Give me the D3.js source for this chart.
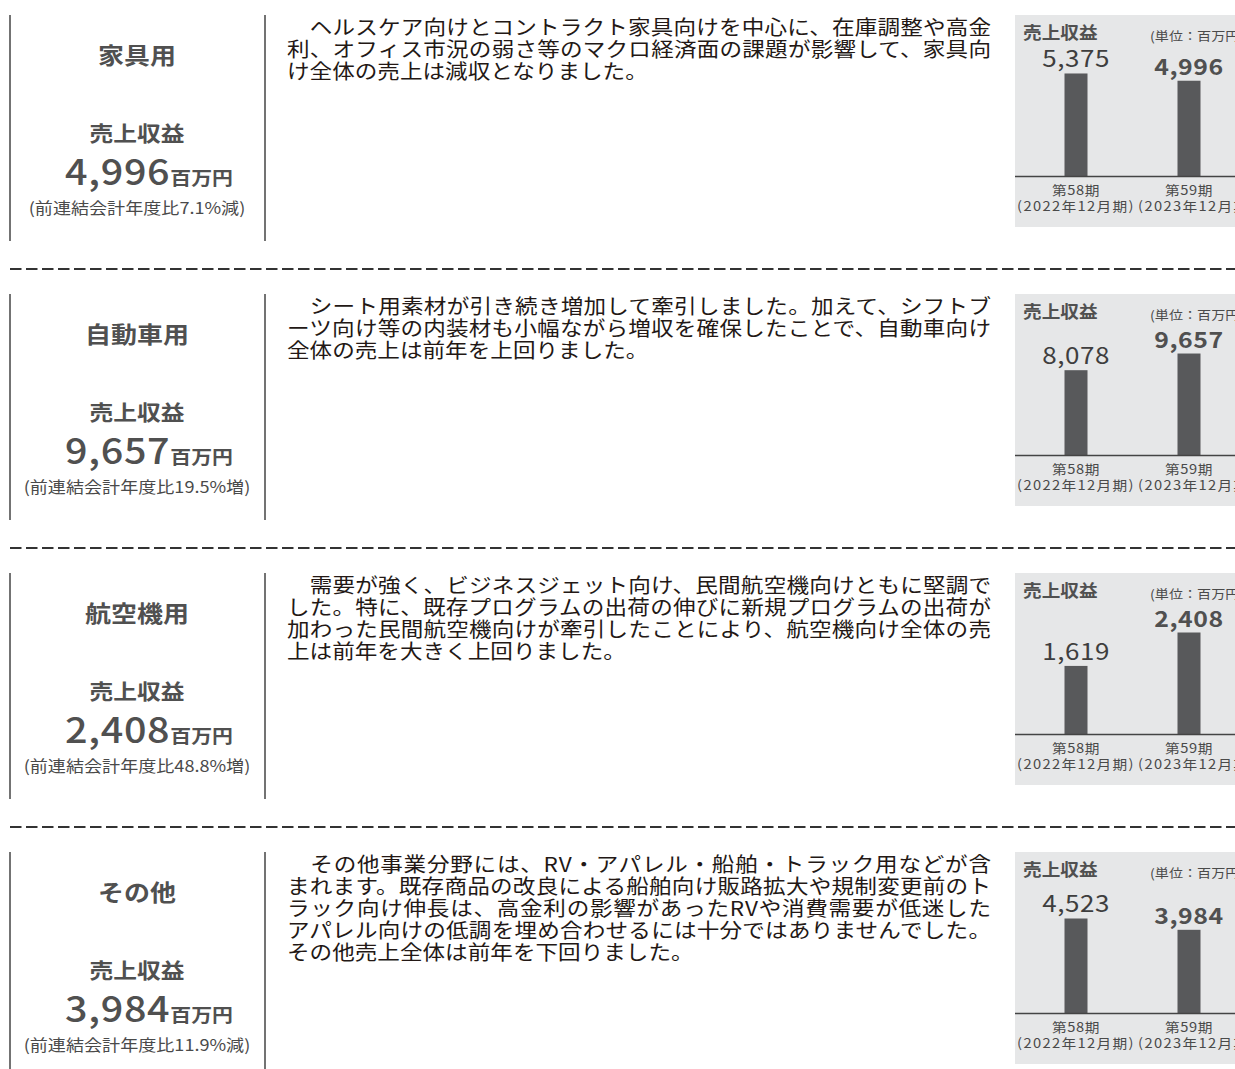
<!DOCTYPE html>
<html><head><meta charset="utf-8">
<script src="https://cdn.jsdelivr.net/npm/d3@7"></script>
<style>
html,body{margin:0;padding:0;background:#fff;}
svg{display:block;font-family:"Noto Sans CJK JP","Noto Sans",sans-serif;}
</style></head>
<body>
<svg id="c" width="1235" height="1069"></svg>
<script>
const segments = ["家具用", "自動車用", "航空機用", "その他"];
const periods = ["第58期", "第59期"];
const periodSub = ["(2022年12月期)", "(2023年12月期)"];
const prevValues = [5375, 8078, 1619, 4523];
const currValues = [4996, 9657, 2408, 3984];
const axisMax = [6000, 10890, 2715, 5475];
const yoyNotes = ["(前連結会計年度比7.1%減)", "(前連結会計年度比19.5%増)", "(前連結会計年度比48.8%増)", "(前連結会計年度比11.9%減)"];
const descriptions = [
  ["　ヘルスケア向けとコントラクト家具向けを中心に、在庫調整や高金",
   "利、オフィス市況の弱さ等のマクロ経済面の課題が影響して、家具向",
   "け全体の売上は減収となりました。"],
  ["　シート用素材が引き続き増加して牽引しました。加えて、シフトブ",
   "ーツ向け等の内装材も小幅ながら増収を確保したことで、自動車向け",
   "全体の売上は前年を上回りました。"],
  ["　需要が強く、ビジネスジェット向け、民間航空機向けともに堅調で",
   "した。特に、既存プログラムの出荷の伸びに新規プログラムの出荷が",
   "加わった民間航空機向けが牽引したことにより、航空機向け全体の売",
   "上は前年を大きく上回りました。"],
  ["　その他事業分野には、RV・アパレル・船舶・トラック用などが含",
   "まれます。既存商品の改良による船舶向け販路拡大や規制変更前のト",
   "ラック向け伸長は、高金利の影響があったRVや消費需要が低迷した",
   "アパレル向けの低調を埋め合わせるには十分ではありませんでした。",
   "その他売上全体は前年を下回りました。"]
];
const unitLabel = "百万円";
const boxTitle = "売上収益";
const unitNote = "(単位：百万円)";

const SX = 1.13;
const svg = d3.select("#c");
const textDark = "#4a4a4a";
const paraColor = "#231815";

function T(g, x, y, str, o = {}) {
  const t = g.append("text")
    .attr("transform", `translate(${x},${y}) scale(${SX},1)`)
    .attr("text-anchor", o.anchor || "start")
    .attr("font-size", o.size || 16)
    .attr("font-weight", o.weight || 400)
    .attr("fill", o.fill || textDark);
  if (o.ls) t.attr("letter-spacing", o.ls);
  if (str !== null) t.text(str);
  return t;
}

const step = 279;
segments.forEach((seg, i) => {
  const g = svg.append("g").attr("transform", `translate(0,${i * step})`);

  // left panel
  g.append("line").attr("x1", 10).attr("x2", 10).attr("y1", 15).attr("y2", 241)
    .attr("stroke", "#444").attr("stroke-width", 1.5);
  g.append("line").attr("x1", 265).attr("x2", 265).attr("y1", 15).attr("y2", 241)
    .attr("stroke", "#444").attr("stroke-width", 1.5);
  T(g, 137, 64, seg, {anchor: "middle", size: 23, weight: 700, fill: "#505050"});
  T(g, 137, 141, boxTitle, {anchor: "middle", size: 21, weight: 700, fill: "#505050"});
  const v = T(g, 149, 185, null, {anchor: "middle", size: 35, weight: 500, ls: 0.6, fill: "#505050"});
  v.append("tspan").text(d3.format(",")(currValues[i]));
  v.append("tspan").attr("font-size", 18.5).attr("font-weight", 700).attr("letter-spacing", 0).text(unitLabel);
  T(g, 137, 214, yoyNotes[i], {anchor: "middle", size: 16});

  // description paragraph
  const lines = descriptions[i];
  lines.forEach((ln, j) => {
    const t = T(g, 287, 35 + j * 22, ln, {size: 20, fill: paraColor});
    if (j < lines.length - 1) t.attr("textLength", 704 / SX).attr("lengthAdjust", "spacing");
  });

  // mini bar chart
  g.append("rect").attr("x", 1015).attr("y", 15).attr("width", 240).attr("height", 212)
    .attr("fill", "#e6e7e8");
  T(g, 1023, 39, boxTitle, {size: 16.5, weight: 700, fill: "#505050"});
  T(g, 1150, 41, unitNote, {size: 12.5});

  const base = 176.5;
  const y = d3.scaleLinear().domain([0, axisMax[i]]).range([base, base - 115]);
  const x = d3.scalePoint().domain(periods).range([1076, 1189]);
  const vals = [prevValues[i], currValues[i]];
  periods.forEach((p, k) => {
    g.append("rect").attr("x", x(p) - 11.5).attr("y", y(vals[k]))
      .attr("width", 23).attr("height", base - y(vals[k])).attr("fill", "#58595b");
    T(g, x(p), y(vals[k]) - 6, d3.format(",")(vals[k]),
      {anchor: "middle", size: k === 1 ? 22 : 23, weight: k === 1 ? 700 : 400, ls: 0.5,
       fill: k === 1 ? "#505050" : "#3e3e3e"});
    T(g, x(p), 195, p, {anchor: "middle", size: 13, ls: 0.5});
    T(g, x(p) + (k === 1 ? 8 : 0), 210.5, periodSub[k], {anchor: "middle", size: 13, ls: 1.2});
  });
  g.append("line").attr("x1", 1015).attr("x2", 1235).attr("y1", base).attr("y2", base)
    .attr("stroke", "#444").attr("stroke-width", 1.5);

  if (i < segments.length - 1) {
    g.append("line").attr("x1", 10).attr("x2", 1235).attr("y1", 269).attr("y2", 269)
      .attr("stroke", "#333").attr("stroke-width", 2).attr("stroke-dasharray", "11.5,4.5");
  }
});
</script>
</body></html>
